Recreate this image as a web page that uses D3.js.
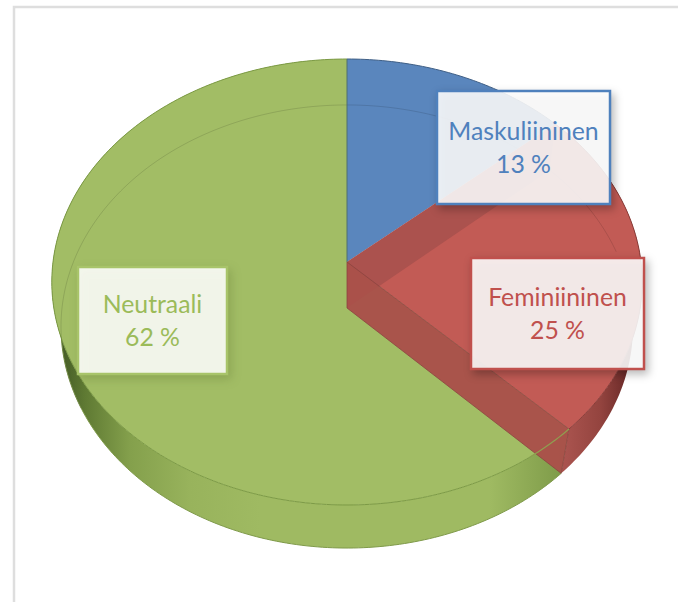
<!DOCTYPE html>
<html>
<head>
<meta charset="utf-8">
<script src="https://cdn.jsdelivr.net/npm/d3@7"></script>
<style>
    body { margin: 0; background: #fff; }
    svg { display: block; }
    text { font-family: Lato, sans-serif; font-size: 24.8px; text-anchor: middle; }
</style>
</head>
<body>
<div id="vis-container"></div>
<script>
// chart data: slice sizes as drawn in the tilted pie, labels as printed on it
var categories = ["Maskuliininen", "Feminiininen", "Neutraali"];
var shares = [13.5, 24, 62.5];
var shareLabels = ["13 %", "25 %", "62 %"];
var faceColors = ["#5a86bd", "#c25b55", "#a2bd65"];
var textColors = ["#4f81bd", "#c0504d", "#9bbb59"];
var boxColors = ["#4f81bd", "#c0504d", "#a8c46a"];

var width = 678;
var height = 602;

var svg = d3.select("#vis-container").append("svg")
    .attr("width", width)
    .attr("height", height);

// frame around the chart area
svg.append("path")
    .attr("d", "M14,602V7H678")
    .attr("fill", "none")
    .attr("stroke", "#dedede")
    .attr("stroke-width", 2.5);

// the pie is a tilted disc: top and bottom face, each with its own perspective
var topFace = { cx: 347, cy: 262, rx: 294, ry: 221.2, k: -0.0897 };
var lowFace = { cx: 347, cy: 308, rx: 285, ry: 220, k: -0.0835 };

function project(face, angle) {
    var v = Math.sin(angle), u = -Math.cos(angle);
    var w = 1 + face.k * u;
    return [face.cx + face.rx * v / w, face.cy + face.ry * u / w];
}

function arcPoints(face, a0, a1) {
    var n = Math.max(2, Math.ceil(Math.abs(a1 - a0) * 60));
    return d3.range(n + 1).map(i => project(face, a0 + (a1 - a0) * i / n));
}

var line = d3.line();
var pie = d3.pie().sort(null)(shares);

var defs = svg.append("defs");

function addGradient(id, stops) {
    var g = defs.append("linearGradient")
        .attr("id", id)
        .attr("gradientUnits", "userSpaceOnUse")
        .attr("x1", 0).attr("x2", width).attr("y1", 0).attr("y2", 0);
    stops.forEach(s => g.append("stop").attr("offset", s[0] / width).attr("stop-color", s[1]));
}

addGradient("side-red", [[566, "#a9534e"], [600, "#94443f"], [625, "#6f2d2b"], [642, "#4f1e1c"]]);
addGradient("side-green", [[55, "#3f5524"], [85, "#5f7a33"], [130, "#84a04c"], [190, "#98b35c"], [260, "#9fba62"], [490, "#9fba62"], [565, "#7d9a48"]]);

// outer side walls first (only red and green are seen from the front)
svg.append("path")
    .attr("d", line(arcPoints(topFace, pie[1].startAngle, pie[1].endAngle)
        .concat(arcPoints(lowFace, pie[1].endAngle, pie[1].startAngle))) + "Z")
    .attr("fill", "url(#side-red)");

svg.append("path")
    .attr("d", line(arcPoints(topFace, pie[2].startAngle, pie[2].endAngle)
        .concat(arcPoints(lowFace, pie[2].endAngle, pie[2].startAngle))) + "Z")
    .attr("fill", "url(#side-green)");

// lower rim edge
svg.append("path")
    .attr("d", line(arcPoints(lowFace, pie[1].endAngle, pie[2].endAngle - 1.1)))
    .attr("fill", "none")
    .attr("stroke", "#7f9a4a")
    .attr("stroke-width", 1);

// top face
svg.selectAll("path.face")
    .data(pie)
    .enter().append("path")
    .attr("class", "face")
    .attr("d", d => line([[topFace.cx, topFace.cy]].concat(arcPoints(topFace, d.startAngle, d.endAngle))) + "Z")
    .attr("fill", (d, i) => faceColors[i]);

// rim of the top face
svg.selectAll("path.rim")
    .data(pie)
    .enter().append("path")
    .attr("class", "rim")
    .attr("d", d => line(arcPoints(topFace, d.startAngle, d.endAngle)))
    .attr("fill", "none")
    .attr("stroke", (d, i) => ["#3f5f86", "#8a3d39", "#7c9a45"][i])
    .attr("stroke-width", 1);

// back wall seen through the top face
svg.append("path")
    .attr("d", line(arcPoints(lowFace, pie[2].startAngle + 1.9, pie[2].endAngle)
        .concat(arcPoints(lowFace, 0, pie[1].endAngle - 1.05))))
    .attr("fill", "none")
    .attr("stroke", "#000")
    .attr("stroke-opacity", 0.12)
    .attr("stroke-width", 1);

// cut walls of the red slice, the one towards blue first
function cutWall(angle) {
    var a = project(topFace, angle), b = project(lowFace, angle);
    return line([[topFace.cx, topFace.cy], a, b, [lowFace.cx, lowFace.cy]]) + "Z";
}

svg.append("path")
    .attr("d", cutWall(pie[1].startAngle))
    .attr("fill", "#ab524e");

svg.append("path")
    .attr("d", cutWall(pie[1].endAngle))
    .attr("fill", "#a9524a")
    .attr("fill-opacity", 0.98)
    .attr("stroke", "#8c4440")
    .attr("stroke-width", 0.8);

// front rim of the green slice runs across the wall
svg.append("path")
    .attr("d", line(arcPoints(topFace, pie[1].endAngle, pie[1].endAngle + 0.17)))
    .attr("fill", "none")
    .attr("stroke", "#8f9f50")
    .attr("stroke-width", 1.2);

// seam between green and blue
svg.append("path")
    .attr("d", line([project(topFace, 0), [topFace.cx, topFace.cy]]))
    .attr("stroke", "#4f6f70")
    .attr("stroke-width", 1);

// data labels
var boxes = [
    { x: 437, y: 91, w: 173, h: 113, base: 140 },
    { x: 471, y: 258, w: 173, h: 111, base: 306 },
    { x: 78, y: 267, w: 149, h: 107, base: 313 }
];

var labels = svg.selectAll("g.label")
    .data(categories)
    .enter().append("g")
    .attr("class", "label");

labels.append("rect")
    .attr("x", (d, i) => boxes[i].x)
    .attr("y", (d, i) => boxes[i].y)
    .attr("width", (d, i) => boxes[i].w)
    .attr("height", (d, i) => boxes[i].h)
    .attr("fill", "#fff")
    .attr("fill-opacity", 0.88)
    .attr("stroke", (d, i) => boxColors[i])
    .attr("stroke-width", 2.5)
    .style("filter", (d, i) => i == 2
        ? "drop-shadow(3px 4px 5px rgba(70,90,30,0.25))"
        : "drop-shadow(3px 4px 4px rgba(0,0,0,0.3))");

labels.append("text")
    .attr("x", (d, i) => boxes[i].x + boxes[i].w / 2)
    .attr("y", (d, i) => boxes[i].base)
    .attr("fill", (d, i) => textColors[i])
    .text(d => d);

labels.append("text")
    .attr("x", (d, i) => boxes[i].x + boxes[i].w / 2)
    .attr("y", (d, i) => boxes[i].base + 33)
    .attr("fill", (d, i) => textColors[i])
    .text((d, i) => shareLabels[i]);
</script>
</body>
</html>
